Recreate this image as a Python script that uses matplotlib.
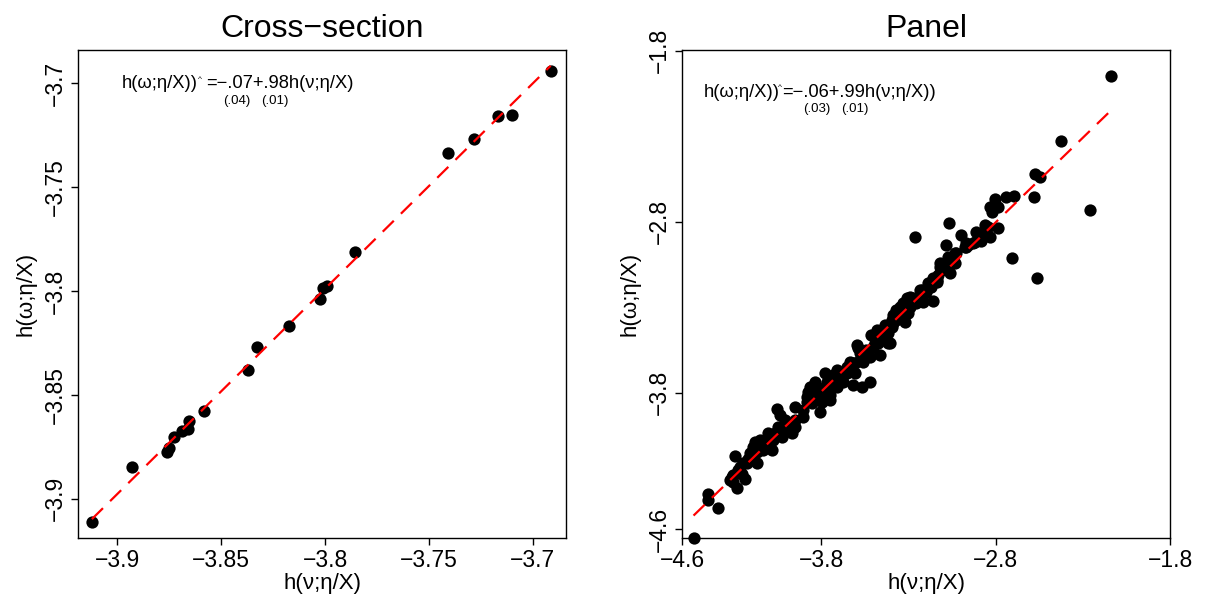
import numpy as np
import matplotlib
matplotlib.use('Agg')
import matplotlib.pyplot as plt

plt.rcParams.update({
    'font.family': ['Liberation Sans', 'DejaVu Sans'],
    'axes.linewidth': 1.0,
    'xtick.major.size': 5, 'ytick.major.size': 5,
    'xtick.major.width': 1.0, 'ytick.major.width': 1.0,
    'xtick.labelsize': 16.5, 'ytick.labelsize': 16.5,
})

# --- Cross-section: 21 points
CS_X = [-3.9123, -3.8931, -3.8759, -3.8751, -3.8730, -3.8689, -3.8661, -3.8654,
        -3.8582, -3.8373, -3.8328, -3.8172, -3.8023, -3.8010, -3.7990, -3.7857,
        -3.7410, -3.7285, -3.7168, -3.7102, -3.6914]
CS_Y = [-3.9115, -3.8846, -3.8774, -3.8755, -3.8705, -3.8673, -3.8666, -3.8625,
        -3.8578, -3.8381, -3.8272, -3.8171, -3.8040, -3.7988, -3.7977, -3.7813,
        -3.7335, -3.7271, -3.7160, -3.7155, -3.6942]

# --- Panel (dense band approximated)
PN_X = [-4.534, -4.449, -4.449, -4.395, -4.296, -4.325, -4.306, -4.283, -4.268, -4.239,
        -4.249, -4.220, -4.210, -4.191, -4.172, -4.182, -4.153, -4.134, -4.115, -4.086,
        -4.105, -4.077, -4.048, -4.019, -4.057, -4.038, -4.000, -3.971, -3.952, -3.905,
        -3.885, -3.866, -3.809, -3.771, -3.752, -3.713, -3.618, -3.570, -3.523, -4.010,
        -4.038, -3.971, -3.952, -3.857, -3.885, -3.799, -3.781, -3.771, -3.819, -3.742,
        -3.752, -3.704, -3.713, -3.676, -3.656, -3.637, -3.609, -3.590, -3.599, -3.542,
        -3.523, -3.465, -3.561, -3.513, -3.484, -3.456, -3.418, -3.437, -3.389, -4.029,
        -3.971, -3.876, -3.838, -3.781, -3.733, -3.685, -3.618, -3.580, -3.494, -3.475,
        -3.408, -3.398, -3.389, -3.341, -3.322, -3.303, -3.312, -3.274, -3.255, -3.217,
        -3.160, -3.226, -3.189, -3.160, -3.131, -3.103, -3.064, -3.093, -3.074, -3.036,
        -3.083, -3.265, -2.997, -2.978, -2.931, -2.892, -2.864, -2.835, -2.787, -3.068,
        -2.705, -3.370, -3.332, -3.293, -3.198, -3.179, -3.122, -3.036, -2.959, -2.140,
        -2.424, -2.577, -2.548, -2.583, -2.260, -2.566, -2.696, -2.743, -2.802, -2.785,
        -2.819, -2.882, -3.137, -3.293,
        # band interior
        -3.952, -3.905, -3.857, -3.838, -3.799, -3.762, -3.723, -3.685, -3.656, -3.637,
        -3.609, -3.580, -3.551, -3.532, -3.504, -3.475, -3.446, -3.418, -4.067, -4.010,
        -3.981, -3.370, -3.351, -3.312, -3.274, -3.236, -3.207, -3.169, -3.140, -3.112,
        -3.093, -3.054, -3.026, -2.968, -2.921, -2.882, -3.398, -3.408, -4.277, -4.258,
        -4.229, -4.210, -4.191, -4.172, -4.153, -4.124, -4.096, -4.067, -4.038, -4.315,
        -4.306, -2.845, -2.835, -2.911, -2.968, -3.122, -3.112, -3.236, -3.312]
PN_Y = [-4.650, -4.394, -4.429, -4.472, -4.169, -4.312, -4.282, -4.360, -4.234, -4.302,
        -4.214, -4.185, -4.155, -4.117, -4.214, -4.087, -4.078, -4.136, -4.117, -4.136,
        -4.038, -4.078, -4.000, -4.029, -3.898, -3.931, -3.980, -4.019, -3.883, -3.941,
        -3.824, -3.766, -3.912, -3.804, -3.843, -3.766, -3.756, -3.766, -3.736, -3.960,
        -4.019, -4.038, -4.000, -3.824, -3.853, -3.853, -3.687, -3.736, -3.785, -3.766,
        -3.814, -3.716, -3.668, -3.736, -3.648, -3.619, -3.687, -3.541, -3.521, -3.551,
        -3.590, -3.580, -3.619, -3.463, -3.434, -3.453, -3.511, -3.404, -3.394, -4.058,
        -3.980, -3.795, -3.736, -3.766, -3.697, -3.687, -3.629, -3.570, -3.511, -3.482,
        -3.511, -3.414, -3.346, -3.326, -3.385, -3.336, -3.268, -3.248, -3.277, -3.268,
        -3.262, -3.199, -3.160, -3.131, -3.111, -3.072, -3.102, -3.053, -3.004, -2.984,
        -2.936, -2.891, -2.877, -2.946, -2.926, -2.887, -2.819, -2.887, -2.838, -2.805,
        -3.014, -3.375, -3.277, -3.297, -3.209, -3.180, -3.063, -3.043, -2.936, -1.945,
        -2.327, -2.522, -2.539, -2.657, -2.729, -3.127, -2.647, -2.655, -2.665, -2.712,
        -2.744, -2.911, -3.151, -3.239,
        # band interior
        -3.960, -3.902, -3.863, -3.814, -3.795, -3.746, -3.726, -3.707, -3.687, -3.668,
        -3.629, -3.609, -3.590, -3.561, -3.531, -3.511, -3.482, -3.453, -4.038, -4.019,
        -3.990, -3.316, -3.297, -3.306, -3.277, -3.239, -3.219, -3.180, -3.141, -3.082,
        -3.063, -3.024, -2.984, -2.946, -2.917, -2.877, -3.375, -3.414, -4.253, -4.273,
        -4.214, -4.195, -4.175, -4.146, -4.126, -4.097, -4.078, -4.048, -4.019, -4.292,
        -4.322, -2.829, -2.712, -2.858, -2.926, -3.043, -3.082, -3.199, -3.248]

CS_TICKS = [-3.9, -3.85, -3.8, -3.75, -3.7]
CS_LABELS = ['\u22123.9', '\u22123.85', '\u22123.8', '\u22123.75', '\u22123.7']
PN_TICKS = [-4.6, -3.8, -2.8, -1.8]
PN_LABELS = ['\u22124.6', '\u22123.8', '\u22122.8', '\u22121.8']

XLAB = 'h(\u03bd;\u03b7/X)'
YLAB = 'h(\u03c9;\u03b7/X)'

fig = plt.figure(figsize=(12.11, 6.03), dpi=100)
ax1 = fig.add_axes([0.0644, 0.1078, 0.4030, 0.8093])
ax2 = fig.add_axes([0.5632, 0.1078, 0.4030, 0.8093])


def draw(ax, x, y, ticks, labels, title):
    x = np.asarray(x)
    y = np.asarray(y)
    ax.scatter(x, y, s=78, color='black', zorder=3, clip_on=False, linewidths=0)
    b, a = np.polyfit(x, y, 1)
    xs = np.array([x.min(), x.max()])
    ax.plot(xs, a + b * xs, color='red', lw=1.6, dashes=(7, 4.5), zorder=4)
    ax.set_xticks(ticks)
    ax.set_xticklabels(labels)
    ax.set_yticks(ticks)
    ax.set_yticklabels(labels, rotation=90, va='center')
    ax.tick_params(pad=3)
    ax.set_xlabel(XLAB, fontsize=16, labelpad=1)
    ax.set_ylabel(YLAB, fontsize=16, labelpad=5)
    ax.set_title(title, fontsize=23, pad=9)


draw(ax1, CS_X, CS_Y, CS_TICKS, CS_LABELS, 'Cross\u2212section')
ax1.set_xlim(-3.919, -3.684)
ax1.set_ylim(-3.919, -3.684)

draw(ax2, PN_X, PN_Y, PN_TICKS, PN_LABELS, 'Panel')
ax2.set_xlim(-4.6, -1.8)
ax2.set_ylim(-4.65, -1.795)

# regression equations with standard errors underneath
eq_fs, se_fs = 13.2, 9.5
t = ax1.transAxes
ax1.text(0.0895, 0.9215, 'h(\u03c9;\u03b7/X))', fontsize=eq_fs, transform=t, va='baseline')
ax1.text(0.245, 0.936, '^', fontsize=6, transform=t, va='baseline')
ax1.text(0.262, 0.9215, '=\u2212.07+.98h(\u03bd;\u03b7/X)', fontsize=eq_fs, transform=t, va='baseline')
ax1.text(0.298, 0.889, '(.04)', fontsize=se_fs, transform=t, va='baseline')
ax1.text(0.375, 0.889, '(.01)', fontsize=se_fs, transform=t, va='baseline')

t = ax2.transAxes
ax2.text(0.0436, 0.904, 'h(\u03c9;\u03b7/X))', fontsize=eq_fs, transform=t, va='baseline')
ax2.text(0.196, 0.92, '^', fontsize=6, transform=t, va='baseline')
ax2.text(0.205, 0.904, '=\u2212.06+.99h(\u03bd;\u03b7/X))', fontsize=eq_fs, transform=t, va='baseline')
ax2.text(0.248, 0.872, '(.03)', fontsize=se_fs, transform=t, va='baseline')
ax2.text(0.325, 0.872, '(.01)', fontsize=se_fs, transform=t, va='baseline')

fig.savefig('out.png', dpi=100)
